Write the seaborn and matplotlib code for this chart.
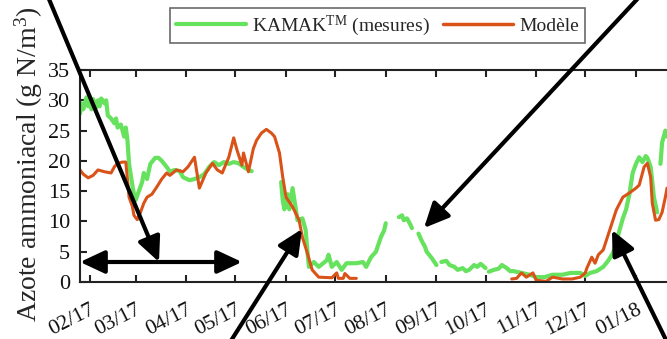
import numpy as np
import pandas as pd
import matplotlib
matplotlib.use("Agg")
import matplotlib.pyplot as plt
import matplotlib.dates as mdates
from matplotlib.lines import Line2D
import seaborn as sns

# ---------------- data ----------------
green_dates = [
    "2017-01-26", "2017-01-27", "2017-01-28", "2017-01-30", "2017-01-31", "2017-02-01", "2017-02-02",
    "2017-02-03", "2017-02-05", "2017-02-06", "2017-02-07", "2017-02-08", "2017-02-10", "2017-02-11",
    "2017-02-12", "2017-02-14", "2017-02-16", "2017-02-17", "2017-02-18", "2017-02-20", "2017-02-22",
    "2017-02-23", "2017-02-24", "2017-02-25", "2017-02-27", "2017-02-28", "2017-03-01", "2017-03-03",
    "2017-03-05", "2017-03-06", "2017-03-08", "2017-03-10", "2017-03-13", "2017-03-15", "2017-03-17",
    "2017-03-20", "2017-03-22", "2017-03-25", "2017-03-28", "2017-03-30", "2017-04-03", "2017-04-06",
    "2017-04-09", "2017-04-12", "2017-04-15", "2017-04-18", "2017-04-21", "2017-04-24", "2017-04-27",
    "2017-04-30", "2017-05-03", "2017-05-06", "2017-05-09", "2017-05-11",
    "2017-05-20",
    "2017-05-29", "2017-05-30", "2017-05-31", "2017-06-02", "2017-06-03", "2017-06-05", "2017-06-08",
    "2017-06-11", "2017-06-13", "2017-06-14", "2017-06-15", "2017-06-18", "2017-06-21", "2017-06-26",
    "2017-06-27", "2017-06-29", "2017-07-02", "2017-07-05", "2017-07-08", "2017-07-11", "2017-07-14",
    "2017-07-18", "2017-07-20", "2017-07-23", "2017-07-26", "2017-07-29", "2017-07-31", "2017-08-01",
    "2017-08-05",
    "2017-08-09", "2017-08-11", "2017-08-12", "2017-08-14", "2017-08-16", "2017-08-17",
    "2017-08-19",
    "2017-08-21", "2017-08-23", "2017-08-25", "2017-08-26", "2017-08-29", "2017-09-01",
    "2017-09-03",
    "2017-09-04", "2017-09-07", "2017-09-09", "2017-09-12", "2017-09-14", "2017-09-17", "2017-09-19",
    "2017-09-21", "2017-09-24", "2017-09-26", "2017-09-28", "2017-10-01",
    "2017-10-02",
    "2017-10-03", "2017-10-06", "2017-10-09", "2017-10-11", "2017-10-14", "2017-10-16", "2017-10-18",
    "2017-10-23", "2017-10-28", "2017-11-01", "2017-11-06", "2017-11-11", "2017-11-17", "2017-11-22",
    "2017-11-28", "2017-12-01", "2017-12-04", "2017-12-08", "2017-12-12", "2017-12-15", "2017-12-18",
    "2017-12-20", "2017-12-22", "2017-12-24", "2017-12-26", "2017-12-28", "2017-12-30", "2018-01-01",
    "2018-01-03", "2018-01-05", "2018-01-07", "2018-01-08", "2018-01-10", "2018-01-12", "2018-01-14",
    "2018-01-15",
    "2018-01-16", "2018-01-17", "2018-01-19", "2018-01-20",
]
green_values = [
    27.8, 29.5, 28.5, 30.5, 29.0, 30.0, 28.5,
    30.2, 28.8, 30.0, 29.0, 30.3, 29.5, 30.0,
    27.5, 27.0, 26.2, 27.0, 25.5, 26.0, 24.0,
    25.5, 23.5, 19.5, 16.0, 14.5, 13.5, 15.0,
    16.5, 18.0, 17.0, 19.5, 20.5, 20.5, 20.0,
    19.0, 18.2, 18.5, 18.3, 17.3, 16.8, 17.0,
    17.3, 17.8, 19.0, 19.8, 19.3, 19.8, 19.5,
    19.8, 19.6, 19.0, 18.5, 18.3,
    np.nan,
    16.5, 13.5, 12.0, 14.5, 12.0, 15.5, 10.2,
    10.5, 8.6, 5.3, 2.5, 3.3, 2.5, 3.6,
    4.5, 2.5, 3.3, 2.0, 3.1, 3.1, 3.1,
    3.3, 2.5, 4.1, 5.0, 7.4, 8.5, 9.7,
    np.nan,
    10.7, 11.0, 10.2, 10.5, 9.5, 8.9,
    np.nan,
    8.0, 6.8, 5.8, 5.0, 4.0, 2.8,
    np.nan,
    3.3, 3.5, 2.8, 2.5, 2.0, 2.3, 1.8,
    2.0, 2.8, 2.5, 3.0, 2.3,
    np.nan,
    1.7, 2.0, 2.2, 2.8, 2.3, 1.8, 1.8,
    1.5, 1.2, 0.8, 0.8, 1.2, 1.2, 1.5,
    1.5, 1.0, 1.5, 1.8, 2.5, 3.5, 4.8,
    6.5, 8.6, 10.5, 12.0, 14.5, 18.0, 19.5,
    20.6, 19.8, 20.8, 20.5, 19.0, 14.0, 11.5,
    np.nan,
    19.5, 23.0, 25.0, 24.0,
]

model_dates = [
    "2017-01-26", "2017-01-28", "2017-01-31", "2017-02-03", "2017-02-06", "2017-02-10", "2017-02-14",
    "2017-02-16", "2017-02-18", "2017-02-21", "2017-02-23", "2017-02-24", "2017-02-25", "2017-02-27",
    "2017-02-28", "2017-03-02", "2017-03-04", "2017-03-06", "2017-03-08", "2017-03-11", "2017-03-14",
    "2017-03-17", "2017-03-20", "2017-03-22", "2017-03-26", "2017-03-30", "2017-04-02", "2017-04-06",
    "2017-04-09", "2017-04-13", "2017-04-17", "2017-04-20", "2017-04-23", "2017-04-27", "2017-04-30",
    "2017-05-02", "2017-05-05", "2017-05-06", "2017-05-09", "2017-05-12", "2017-05-14", "2017-05-17",
    "2017-05-20", "2017-05-23", "2017-05-25", "2017-05-28", "2017-05-30", "2017-06-01", "2017-06-05",
    "2017-06-09", "2017-06-11", "2017-06-14", "2017-06-17", "2017-06-21", "2017-06-29", "2017-07-02",
    "2017-07-03", "2017-07-06", "2017-07-07", "2017-07-10", "2017-07-14",
    "2017-07-20",
    "2017-10-17", "2017-10-20", "2017-10-23", "2017-10-26", "2017-10-30", "2017-11-01", "2017-11-07",
    "2017-11-11", "2017-11-17", "2017-11-23", "2017-11-28", "2017-12-01", "2017-12-02", "2017-12-05",
    "2017-12-07", "2017-12-09", "2017-12-12", "2017-12-16", "2017-12-20", "2017-12-24", "2017-12-28",
    "2018-01-01", "2018-01-03", "2018-01-06", "2018-01-08", "2018-01-10", "2018-01-11", "2018-01-13",
    "2018-01-15", "2018-01-17", "2018-01-19", "2018-01-20",
]
model_values = [
    18.5, 17.8, 17.2, 17.6, 18.5, 18.2, 18.0,
    19.0, 19.6, 19.8, 19.8, 17.0, 14.0, 12.5,
    11.0, 10.3, 11.5, 13.0, 14.0, 14.5, 15.7,
    17.0, 18.0, 17.6, 18.5, 18.2, 19.0, 20.6,
    15.5, 18.0, 19.6, 18.5, 18.0, 20.6, 23.8,
    21.8, 19.3, 21.3, 18.2, 22.0, 23.4, 24.6,
    25.2, 24.6, 24.0, 21.3, 17.3, 14.0, 12.4,
    10.2, 7.4, 4.8, 2.0, 0.8, 0.7, 1.5,
    0.6, 0.6, 1.4, 0.6, 0.6,
    np.nan,
    0.5, 0.6, 1.5, 0.8, 1.5, 0.3, 0.1,
    0.8, 0.5, 0.5, 0.8, 1.5, 2.3, 4.1,
    3.1, 4.5, 5.3, 8.6, 11.9, 14.0, 14.7,
    15.5, 16.0, 19.0, 19.6, 17.3, 13.0, 10.2,
    10.3, 11.5, 14.0, 15.5,
]

series_labels = [r"KAMAK$^{\mathrm{TM}}$ (mesures)", "Modèle"]
y_label = "Azote ammoniacal (g N/m$^3$)"
y_ticks = [0, 5, 10, 15, 20, 25, 30, 35]

GREEN = "#66E25E"
ORANGE = "#D95319"

# ---------------- style ----------------
sns.set_style("ticks")
plt.rcParams["font.family"] = ["Liberation Serif", "DejaVu Serif"]
plt.rcParams["mathtext.fontset"] = "custom"
plt.rcParams["mathtext.rm"] = "Liberation Serif"
plt.rcParams["mathtext.it"] = "Liberation Serif:italic"
plt.rcParams["mathtext.bf"] = "Liberation Serif:bold"


def segmented(dates, values):
    df = pd.DataFrame({"date": pd.to_datetime(dates), "value": values})
    df["seg"] = df["value"].isna().cumsum()
    return df.dropna(subset=["value"])


W, H = 667, 339
fig = plt.figure(figsize=(W / 100, H / 100), dpi=100)
ax = fig.add_axes([80 / W, 1 - 282 / H, (W - 80) / W, 212 / H])

g = segmented(green_dates, green_values)
m = segmented(model_dates, model_values)
sns.lineplot(data=g, x="date", y="value", units="seg", estimator=None, sort=False,
             color=GREEN, lw=3.0, ax=ax, legend=False)
sns.lineplot(data=m, x="date", y="value", units="seg", estimator=None, sort=False,
             color=ORANGE, lw=2.2, ax=ax, legend=False)

ax.set_xlim(pd.Timestamp("2017-01-26"), pd.Timestamp("2018-01-20"))
ax.set_ylim(0, 35)
ax.set_yticks(y_ticks)
ax.xaxis.set_major_locator(mdates.MonthLocator())
ax.xaxis.set_major_formatter(mdates.DateFormatter("%m/%y"))
ax.set_xlabel("")
ax.set_ylabel(y_label, fontsize=20)
ax.yaxis.set_label_coords(-0.060, 0.555)

for side in ["left", "bottom", "top"]:
    ax.spines[side].set_color("#222222")
    ax.spines[side].set_linewidth(1.5)
ax.spines["right"].set_visible(False)
ax.tick_params(axis="both", direction="in", length=5, width=1.5, color="#222222",
               labelcolor="#111111")
ax.tick_params(axis="x", top=True, pad=13, labelsize=15.5)
ax.tick_params(axis="y", right=False, pad=7, labelsize=16)
plt.setp(ax.get_xticklabels(), rotation=27, ha="right", va="top", rotation_mode="anchor")

handles = [Line2D([], [], color=GREEN, lw=3.0), Line2D([], [], color=ORANGE, lw=2.5)]
leg = fig.legend(handles, series_labels, loc="center", bbox_to_anchor=(377.5 / W, 1 - 25.5 / H),
                 ncol=2, frameon=True, fancybox=False, fontsize=14, handlelength=3.6,
                 handletextpad=0.3, columnspacing=0.7, borderpad=0.3, borderaxespad=0)
leg.get_frame().set_edgecolor("#444444")
leg.get_frame().set_linewidth(1.2)


def fpx(x, y):
    return (x / W, 1 - y / H)


arrow_kw = dict(color="black", lw=3.0, shrinkA=0, shrinkB=0, mutation_scale=20)
single = [((46, -8), (159, 262)), ((227, 347), (302, 229)), ((642, -6), (424, 228)), ((669, 346), (612, 230))]
for tail, head in single:
    ax.annotate("", xy=fpx(*head), xytext=fpx(*tail), xycoords="figure fraction",
                textcoords="figure fraction", annotation_clip=False,
                arrowprops=dict(arrowstyle="-|>,head_length=0.75,head_width=0.35", **arrow_kw))
ax.annotate("", xy=fpx(242, 262), xytext=fpx(80, 262), xycoords="figure fraction",
            textcoords="figure fraction", annotation_clip=False,
            arrowprops=dict(arrowstyle="<|-|>,head_length=0.75,head_width=0.35", **arrow_kw))

fig.savefig("out.png", dpi=100)
